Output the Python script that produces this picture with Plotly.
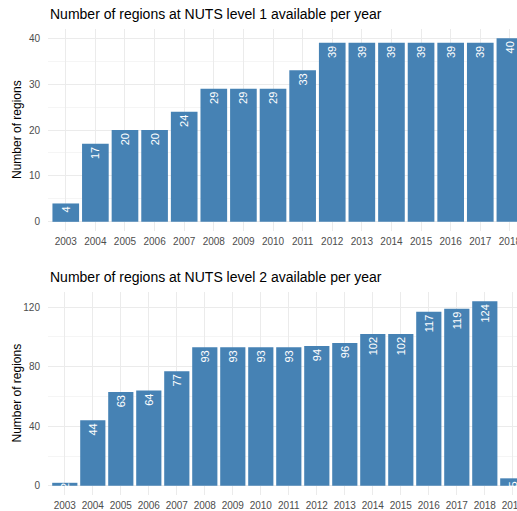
import plotly.graph_objects as go
from plotly.subplots import make_subplots

# regions available per year
years_nuts1 = [str(y) for y in range(2003, 2019)]
regions_nuts1 = [4, 17, 20, 20, 24, 29, 29, 29, 33, 39, 39, 39, 39, 39, 39, 40]

years_nuts2 = [str(y) for y in range(2003, 2020)]
regions_nuts2 = [2, 44, 63, 64, 77, 93, 93, 93, 93, 94, 96, 102, 102, 117, 119, 124, 5]

titles = ["Number of regions at NUTS level 1 available per year",
          "Number of regions at NUTS level 2 available per year"]

BAR_COLOR = "#4682B4"
FONT = "Liberation Sans, Arial, sans-serif"
GRID = "#EBEBEB"
MINOR_GRID = "#F5F5F5"

# panel domains (paper fractions)
TOP_DOMAIN = [0.5665, 1]
BOTTOM_DOMAIN = [0, 0.4356]

fig = make_subplots(rows=2, cols=1, vertical_spacing=0.13)

for row, (x, y) in enumerate([(years_nuts1, regions_nuts1), (years_nuts2, regions_nuts2)], start=1):
    fig.add_trace(go.Bar(x=x, y=y,
                         text=[str(v) for v in y],
                         textposition="inside",
                         insidetextanchor="end",
                         textangle=-90,
                         textfont=dict(color="white", size=11, family=FONT),
                         marker_color=BAR_COLOR,
                         marker_line_width=0,
                         cliponaxis=True,
                         hoverinfo="x+y",
                         showlegend=False),
                  row=row, col=1)

fig.update_layout(
    width=517, height=511,
    margin=dict(l=48, r=0, t=29, b=16, autoexpand=False),
    plot_bgcolor="white", paper_bgcolor="white",
    font=dict(family=FONT),
    bargap=0.1,
    uniformtext=dict(minsize=11, mode="show"),
    xaxis=dict(domain=[0, 1]),
    yaxis=dict(domain=TOP_DOMAIN),
    xaxis2=dict(domain=[0, 1]),
    yaxis2=dict(domain=BOTTOM_DOMAIN),
)

axis_common = dict(showline=False, zeroline=False, ticks="",
                   tickfont=dict(size=10, color="#4D4D4D", family=FONT),
                   gridcolor=GRID, gridwidth=1, fixedrange=True)

fig.update_xaxes(**axis_common, showgrid=True, tickangle=0, ticklabelstandoff=3)
fig.update_xaxes(range=[-0.6, 15.24], row=1, col=1)
fig.update_xaxes(range=[-0.6, 16.15], row=2, col=1)

fig.update_yaxes(**axis_common, showgrid=True, ticklabelstandoff=7)
fig.update_yaxes(range=[-2, 42], tickvals=[0, 10, 20, 30, 40],
                 minor=dict(tickvals=[5, 15, 25, 35], showgrid=True, gridcolor=MINOR_GRID),
                 row=1, col=1)
fig.update_yaxes(range=[-6.2, 130.2], tickvals=[0, 40, 80, 120],
                 minor=dict(tickvals=[20, 60, 100], showgrid=True, gridcolor=MINOR_GRID),
                 row=2, col=1)

# panel titles and y titles, aligned the same way in both panels
for title, dom in zip(titles, [TOP_DOMAIN, BOTTOM_DOMAIN]):
    fig.add_annotation(text=title, xref="paper", yref="paper", x=0, y=dom[1],
                       xanchor="left", yanchor="bottom", yshift=5, showarrow=False,
                       font=dict(size=14, color="black", family=FONT))
    fig.add_annotation(text="Number of regions", xref="paper", yref="paper",
                       x=0, y=(dom[0] + dom[1]) / 2, xshift=-31, textangle=-90,
                       xanchor="center", yanchor="middle", showarrow=False,
                       font=dict(size=12, color="black", family=FONT))

# drop the browser's default body margin so the figure sits at the window corner
fig.write_html("out.html", config={"displayModeBar": False},
               post_script="document.body.style.margin='0';document.body.style.overflow='hidden';")
